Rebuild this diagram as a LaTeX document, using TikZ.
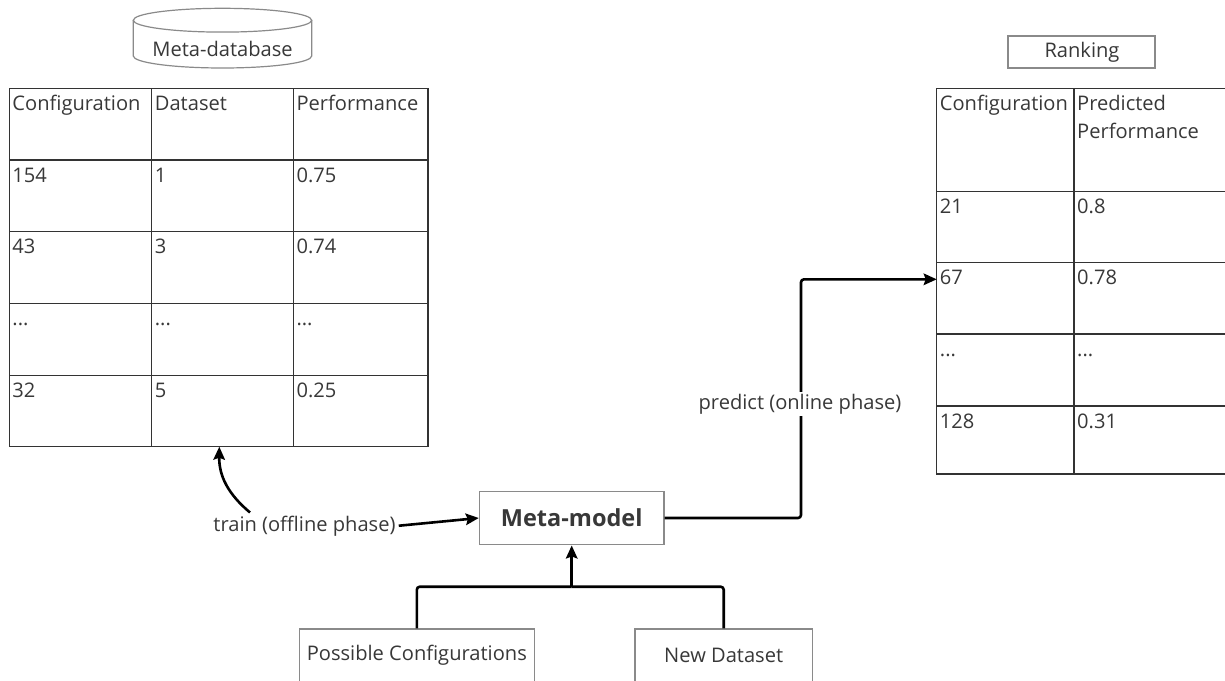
\documentclass[tikz,border=0pt]{standalone}
\usepackage{fontspec}
\setmainfont{Open Sans}
\usetikzlibrary{arrows.meta}
\definecolor{txtc}{HTML}{383838}
\definecolor{tblc}{HTML}{333333}
\definecolor{boxc}{HTML}{8A8A8A}
\tikzset{
  cell/.style={draw=tblc, line width=1.3pt, anchor=north west, inner sep=0pt, outer sep=0pt},
  celltext/.style={anchor=base west, inner sep=0pt, text=txtc, font=\fontsize{20.1}{28}\selectfont},
  plainbox/.style={draw=boxc, line width=1.2pt, fill=white, inner sep=0pt, text=txtc, font=\fontsize{20.1}{28}\selectfont},
  lbl/.style={text=txtc, font=\fontsize{20.1}{28}\selectfont, inner sep=3pt},
  conn/.style={line width=2.6pt, black, rounded corners=3pt},
  arr/.style={conn, -{Stealth[length=13pt, width=11.5pt, inset=2pt]}},
}
\begin{document}
\begin{tikzpicture}[x=1pt, y=-1pt]
\useasboundingbox (0,0) rectangle (1225,680);

% ---- Meta-database cylinder ----
\draw[boxc, line width=1.2pt, fill=white] (133.3,20.2) -- (133.3,56) arc[start angle=180, end angle=360, x radius=89.2pt, y radius=12pt] -- (311.7,20.2);
\draw[boxc, line width=1.2pt, fill=white] (222.5,20.2) ellipse [x radius=89.2pt, y radius=11.9pt];
\node[celltext, anchor=base] (db) at (222.5,56.3) {Meta-database};

% ---- left table ----
\foreach \r/\y/\h in {0/88.3/71.7, 1/160/71.3, 2/231.3/72, 3/303.3/72.4, 4/375.7/71}{
  \foreach \c/\x/\w in {0/9.3/142.4, 1/151.7/141.6, 2/293.3/134.7}{
    \node[cell, minimum width=\w pt, minimum height=\h pt] (L\r\c) at (\x,\y) {};
  }
}
\node[celltext] (lt00) at ([shift={(3,22.5)}]L00.north west) {Configuration};
\node[celltext] (lt01) at ([shift={(3,22.5)}]L01.north west) {Dataset};
\node[celltext] (lt02) at ([shift={(3,22.5)}]L02.north west) {Performance};
\node[celltext] (lt10) at ([shift={(3,22)}]L10.north west) {154};
\node[celltext] (lt11) at ([shift={(3,22)}]L11.north west) {1};
\node[celltext] (lt12) at ([shift={(3,22)}]L12.north west) {0.75};
\node[celltext] (lt20) at ([shift={(3,22)}]L20.north west) {43};
\node[celltext] (lt21) at ([shift={(3,22)}]L21.north west) {3};
\node[celltext] (lt22) at ([shift={(3,22)}]L22.north west) {0.74};
\node[celltext] (lt30) at ([shift={(3,22)}]L30.north west) {...};
\node[celltext] (lt31) at ([shift={(3,22)}]L31.north west) {...};
\node[celltext] (lt32) at ([shift={(3,22)}]L32.north west) {...};
\node[celltext] (lt40) at ([shift={(3,22)}]L40.north west) {32};
\node[celltext] (lt41) at ([shift={(3,22)}]L41.north west) {5};
\node[celltext] (lt42) at ([shift={(3,22)}]L42.north west) {0.25};

% ---- Ranking ----
\node[plainbox, minimum width=147pt, minimum height=32pt] (rank) at (1081.5,52) {};
\node[celltext, anchor=base] (rankt) at (1082,57.7) {Ranking};

% ---- right table ----
\foreach \r/\y/\h in {0/88.3/103.4, 1/191.7/70.6, 2/262.3/71.7, 3/334/72, 4/406/68}{
  \node[cell, minimum width=137.3pt, minimum height=\h pt] (R\r0) at (936.7,\y) {};
  \node[cell, minimum width=170pt, minimum height=\h pt] (R\r1) at (1074,\y) {};
}
\node[celltext] (rt00) at ([shift={(3,22)}]R00.north west) {Configuration};
\node[celltext] (rt01a) at ([shift={(3,22)}]R01.north west) {Predicted};
\node[celltext] (rt01b) at ([shift={(3,50)}]R01.north west) {Performance};
\node[celltext] (rt10) at ([shift={(3,22)}]R10.north west) {21};
\node[celltext] (rt11) at ([shift={(3,22)}]R11.north west) {0.8};
\node[celltext] (rt20) at ([shift={(3,22)}]R20.north west) {67};
\node[celltext] (rt21) at ([shift={(3,22)}]R21.north west) {0.78};
\node[celltext] (rt30) at ([shift={(3,22)}]R30.north west) {...};
\node[celltext] (rt31) at ([shift={(3,22)}]R31.north west) {...};
\node[celltext] (rt40) at ([shift={(3,22)}]R40.north west) {128};
\node[celltext] (rt41) at ([shift={(3,22)}]R41.north west) {0.31};

% ---- Meta-model and inputs ----
\node[plainbox, minimum width=184.7pt, minimum height=53.7pt, font=\fontsize{23.5}{28}\selectfont\bfseries] (mm) at (571.7,518) {Meta-model};
\node[plainbox, minimum width=235pt, minimum height=52.5pt] (pc) at (416.8,655.2) {Possible Configurations};
\node[plainbox, minimum width=177.3pt, minimum height=52.5pt] (nd) at (723.7,655.2) {New Dataset};

% ---- train ----
\node[lbl, anchor=base] (tr) at (304.5,531) {train (offline phase)};
\coordinate (trs) at (250,512.5);
\coordinate (trt) at ([xshift=-3.2pt]L41.south);
\draw[arr] (trs) .. controls (228,494) and (219,476) .. (trt);
\draw[arr] (tr.east) -- (mm.west);

% ---- inputs to meta-model ----
\coordinate (jn) at (571.7,586.7);
\draw[conn] (pc.north) |- (jn);
\draw[conn] (nd.north) |- (jn);
\draw[arr] (jn) -- (mm.south);

% ---- predict ----
\coordinate (t67) at ([shift={(0,17)}]R20.north west);
\draw[arr] (mm.east) -- (801,518) |- (t67);
\node[lbl, fill=white, anchor=base, inner sep=2pt] (pr) at (800,409) {predict (online phase)};
\end{tikzpicture}
\end{document}
